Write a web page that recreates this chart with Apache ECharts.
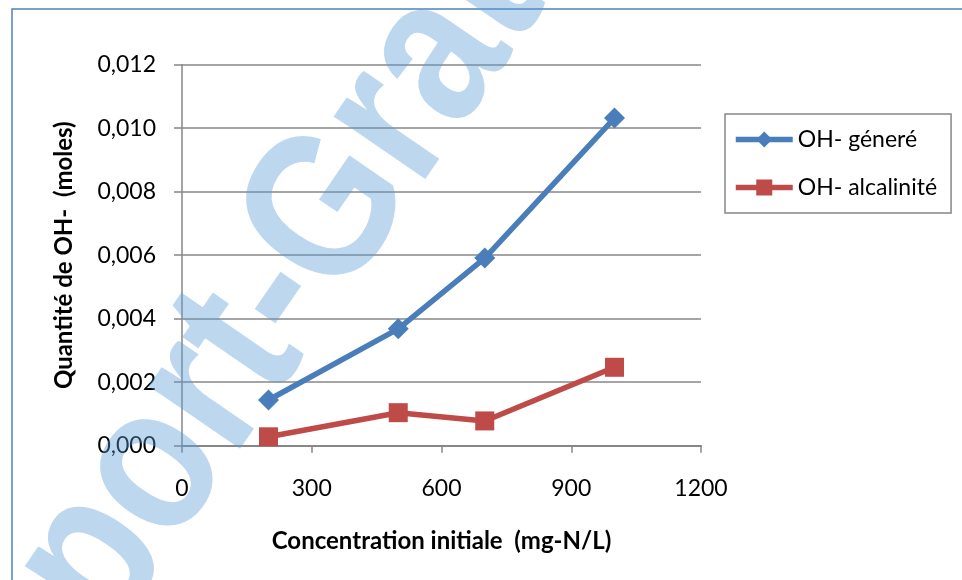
<!DOCTYPE html>
<html>
<head>
<meta charset="utf-8">
<script src="https://cdn.jsdelivr.net/npm/echarts@6/dist/echarts.min.js"></script>
<style>
  html, body { margin: 0; padding: 0; background: #fff; }
  #chart { width: 962px; height: 580px; }
</style>
</head>
<body>
<div id="chart"></div>
<script>
// Initial concentration (mg-N/L)
const concentrations = [200, 500, 700, 1000];
// Quantity of OH- (moles)
const ohGenere = [0.00144, 0.00368, 0.00591, 0.01032];
const ohAlcalinite = [0.00028, 0.00104, 0.00078, 0.00247];
const seriesNames = ['OH- géneré', 'OH- alcalinité'];
const xTitle = 'Concentration initiale  (mg-N/L)';
const yTitle = 'Quantité de OH-  (moles)';
const watermarkHead = 'Rapport-';
const watermarkTail = 'Gratuit';

const FONT = 'Lato, "Open Sans", sans-serif';
const GRAY = '#878787';

function pairs(xs, ys) {
  return xs.map((x, i) => [x, ys[i]]);
}

// Diagonal background watermark, split at the "G" so both halves share one anchor;
// slightly condensed along its baseline
const wmAngle = 55.5 * Math.PI / 180;
const wmAnchor = [292, 271];
const wmScaleX = 0.85;
const wmStyle = {
  font: 'bold 210px "Liberation Sans", Arial, sans-serif',
  fill: 'rgba(91,155,213,0.40)',
  textVerticalAlign: 'middle'
};

const chart = echarts.init(document.getElementById('chart'), null, { renderer: 'canvas' });

chart.setOption({
  animation: false,
  backgroundColor: '#ffffff',
  textStyle: { fontFamily: FONT },
  graphic: [
    {
      type: 'rect',
      z: 0,
      shape: { x: 12, y: 9, width: 1000, height: 1000 },
      style: { fill: 'none', stroke: '#4F81BD', lineWidth: 1.5 }
    },
    {
      type: 'text',
      z: 1,
      x: wmAnchor[0],
      y: wmAnchor[1],
      rotation: wmAngle,
      scaleX: wmScaleX,
      style: Object.assign({ text: watermarkHead, textAlign: 'right' }, wmStyle)
    },
    {
      type: 'text',
      z: 1,
      x: wmAnchor[0],
      y: wmAnchor[1],
      rotation: wmAngle,
      scaleX: wmScaleX,
      style: Object.assign({ text: watermarkTail, textAlign: 'left' }, wmStyle)
    }
  ],
  grid: {
    left: 182,
    right: 261,
    top: 64.7,
    bottom: 134.3,
    containLabel: false
  },
  legend: {
    orient: 'vertical',
    left: 725,
    top: 114,
    padding: [14, 14, 14, 8],
    itemGap: 25,
    itemWidth: 57,
    itemHeight: 20,
    borderColor: GRAY,
    borderWidth: 1.5,
    backgroundColor: '#ffffff',
    lineStyle: { width: 'inherit' },
    textStyle: { fontFamily: FONT, fontSize: 23, color: '#000' },
    data: seriesNames
  },
  xAxis: {
    type: 'value',
    min: 0,
    max: 1200,
    interval: 300,
    name: xTitle,
    nameLocation: 'middle',
    nameGap: 84,
    nameTextStyle: { fontFamily: FONT, fontSize: 24, fontWeight: 'bold', color: '#000' },
    axisLine: { show: true, onZero: false, lineStyle: { color: GRAY, width: 2 } },
    axisTick: { show: true, inside: false, length: 7, lineStyle: { color: GRAY, width: 1.5 } },
    axisLabel: {
      margin: 31,
      fontFamily: FONT,
      fontSize: 23,
      color: '#000',
      formatter: v => String(v)
    },
    splitLine: { show: false }
  },
  yAxis: {
    type: 'value',
    min: 0,
    max: 0.012,
    interval: 0.002,
    name: yTitle,
    nameLocation: 'middle',
    nameGap: 106,
    nameTextStyle: { fontFamily: FONT, fontSize: 24, fontWeight: 'bold', color: '#000' },
    axisLine: { show: true, lineStyle: { color: GRAY, width: 1.5 } },
    axisTick: { show: true, inside: false, length: 8, lineStyle: { color: GRAY, width: 1.5 } },
    axisLabel: {
      margin: 26,
      fontFamily: FONT,
      fontSize: 23,
      color: '#000',
      formatter: v => v.toFixed(3).replace('.', ',')
    },
    splitLine: { show: true, lineStyle: { color: GRAY, width: 1.5 } }
  },
  series: [
    {
      name: seriesNames[0],
      type: 'line',
      z: 3,
      data: pairs(concentrations, ohGenere),
      symbol: 'diamond',
      symbolSize: 21,
      lineStyle: { color: '#4A7EBB', width: 5.5 },
      itemStyle: { color: '#4A7EBB' }
    },
    {
      name: seriesNames[1],
      type: 'line',
      z: 3,
      data: pairs(concentrations, ohAlcalinite),
      symbol: 'rect',
      symbolSize: 19,
      lineStyle: { color: '#BE4B48', width: 5.5 },
      itemStyle: { color: '#BE4B48' }
    }
  ]
});
</script>
</body>
</html>
